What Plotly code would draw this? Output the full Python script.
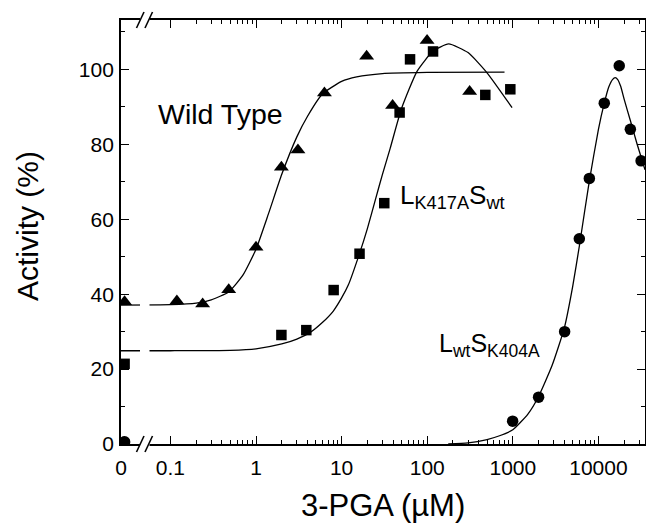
import plotly.graph_objects as go

# ---------------- data ----------------
# x = 3-PGA concentration (uM); 0 is drawn on the broken-axis segment at the left
wt_x = [0, 0.119, 0.238, 0.48, 1.0, 1.98, 3.09, 6.3, 19.6, 39.4, 99.6, 313]
wt_y = [38.0, 38.2, 37.4, 41.2, 52.5, 73.9, 78.5, 93.7, 103.5, 90.4, 107.7, 94.1]

k417_x = [0, 1.98, 3.87, 8.07, 16.2, 31.5, 47.6, 63, 117, 477, 935]
k417_y = [21.4, 29.1, 30.4, 41.1, 50.8, 64.3, 88.5, 102.7, 104.8, 93.2, 94.7]

k404_x = [0, 995, 2000, 4030, 5980, 7830, 11700, 17500, 23600, 31500]
k404_y = [0.6, 6.1, 12.5, 30.0, 54.8, 70.9, 91.0, 101.0, 84.0, 75.6]

# fitted curves
wt_fit_x = [0, 0.1, 0.2, 0.3, 0.48, 0.7, 1.0, 1.4, 2.0, 3.0, 4.0, 6.0, 10, 15, 30, 100, 800]
wt_fit_y = [37.1, 37.2, 37.6, 38.5, 40.6, 45.0, 52.0, 61.5, 72.0, 82.0, 87.5, 93.5, 96.8, 98.0, 98.9, 99.2, 99.3]

k417_fit_x = [0, 0.1, 0.5, 1, 2, 3, 4.3, 6, 8, 10, 12, 16, 20, 25, 30, 37, 50, 76, 117, 178, 300, 500, 980]
k417_fit_y = [24.9, 24.9, 25.0, 25.4, 26.7, 28.0, 29.8, 32.5, 35.5, 39.0, 42.5, 50.5, 57.5, 65.5, 72.0, 79.0,
              89.5, 99.5, 104.9, 106.8, 104.5, 99.1, 89.8]

k404_fit_x = [176, 300, 500, 700, 1000, 1500, 2000, 2880, 4000, 5000, 6000, 7800, 10000, 11700, 13200, 14600,
              15700, 16800, 18200, 20000, 23500, 28100, 35000]
k404_fit_y = [0.0, 0.3, 1.2, 2.2, 3.8, 8.0, 12.7, 21.0, 31.0, 42.0, 53.0, 70.0, 84.0, 91.0, 95.3, 97.3,
              97.8, 97.3, 95.5, 92.0, 86.5, 80.3, 73.2]

x_tick_text = ["0", "0.1", "1", "10", "100", "1000", "10000"]
x_tick_vals_pos = [0.1, 1, 10, 100, 1000, 10000]
y_tick_vals = [0, 20, 40, 60, 80, 100]

# ---------------- layout constants ----------------
X_LOG_RANGE = [-1.577, 4.544]
ZERO_POS = 10 ** -1.535          # where the x = 0 points sit (left of the axis break)
ZERO_TICK = 10 ** -1.575
FONT = "Liberation Sans, Arial, Helvetica, sans-serif"
L, R, T, B = 121, 1, 20, 79
PW, PH = 646 - L - R, 523 - T - B


def place(xs):
    return [ZERO_POS if v == 0 else v for v in xs]


def place_fit(xs):
    return [10 ** X_LOG_RANGE[0] if v == 0 else v for v in xs]


def px_to_paper(px, py):
    return (px - L) / PW, (523 - B - py) / PH


fig = go.Figure()

line_style = dict(color="black", width=1.3, shape="spline", smoothing=0.5)
fig.add_trace(go.Scatter(x=place_fit(wt_fit_x), y=wt_fit_y, mode="lines", line=line_style, hoverinfo="skip"))
fig.add_trace(go.Scatter(x=place_fit(k417_fit_x), y=k417_fit_y, mode="lines", line=line_style, hoverinfo="skip"))
fig.add_trace(go.Scatter(x=k404_fit_x, y=k404_fit_y, mode="lines", line=line_style, hoverinfo="skip"))

fig.add_trace(go.Scatter(x=place(wt_x), y=wt_y, mode="markers", name="Wild Type",
                         marker=dict(symbol="triangle-up", size=13, color="black")))
fig.add_trace(go.Scatter(x=place(k417_x), y=k417_y, mode="markers", name="LK417ASwt",
                         marker=dict(symbol="square", size=10.5, color="black")))
fig.add_trace(go.Scatter(x=place(k404_x), y=k404_y, mode="markers", name="LwtSK404A",
                         marker=dict(symbol="circle", size=11.5, color="black")))

# minor ticks on log axis
minor_x = []
for e in range(-1, 5):
    for m in range(2, 10):
        v = m * 10 ** e
        if v <= 10 ** X_LOG_RANGE[1]:
            minor_x.append(v)

fig.update_layout(
    width=646, height=523,
    margin=dict(l=L, r=R, t=T, b=B, autoexpand=False),
    paper_bgcolor="white", plot_bgcolor="white",
    showlegend=False,
    font=dict(family=FONT, color="black", size=21),
    xaxis=dict(
        type="log", range=X_LOG_RANGE, automargin=False,
        tickmode="array", tickvals=[ZERO_TICK] + x_tick_vals_pos, ticktext=x_tick_text,
        ticks="inside", ticklen=8, tickwidth=1.4, tickcolor="black",
        minor=dict(tickmode="array", tickvals=minor_x, ticks="inside", ticklen=4,
                   tickwidth=1.2, tickcolor="black", showgrid=False),
        showline=True, linecolor="black", linewidth=1.8, mirror="ticks",
        showgrid=False, zeroline=False,
        tickfont=dict(size=21), ticklabelstandoff=4,
    ),
    yaxis=dict(
        range=[0, 113.2], automargin=False,
        tickmode="array", tickvals=y_tick_vals,
        ticks="inside", ticklen=8, tickwidth=1.4, tickcolor="black",
        minor=dict(dtick=10, ticks="inside", ticklen=4, tickwidth=1.2, tickcolor="black",
                   showgrid=False),
        showline=True, linecolor="black", linewidth=1.8, mirror="ticks",
        showgrid=False, zeroline=False,
        tickfont=dict(size=21), ticklabelstandoff=1,
    ),
)

# axis titles as annotations (precise placement)
tx, ty = px_to_paper(383, 505)
fig.add_annotation(text="3-PGA (µM)", xref="paper", yref="paper", x=tx, y=ty,
                   xanchor="center", yanchor="middle", showarrow=False, font=dict(size=31))
tx, ty = px_to_paper(28, 226)
fig.add_annotation(text="Activity (%)", xref="paper", yref="paper", x=tx, y=ty, textangle=-90,
                   xanchor="center", yanchor="middle", showarrow=False, font=dict(size=30))

# axis break: white gap + double slashes on top and bottom
gx0, _ = px_to_paper(140, 0)
gx1, _ = px_to_paper(149.5, 0)
fig.add_shape(type="rect", xref="paper", yref="paper", x0=gx0, x1=gx1, y0=-0.012, y1=1.012,
              fillcolor="white", line=dict(width=0), layer="above")
for base in (444, 20):
    for sx in (136.5, 145):
        x0, y0 = px_to_paper(sx, base + 8)
        x1, y1 = px_to_paper(sx + 7.5, base - 8)
        fig.add_shape(type="line", xref="paper", yref="paper", x0=x0, y0=y0, x1=x1, y1=y1,
                      line=dict(color="black", width=1.6), layer="above")

ax, ay = px_to_paper(156, 114)
fig.add_annotation(text="Wild Type", xref="paper", yref="paper", x=ax, y=ay,
                   xanchor="left", yanchor="middle", showarrow=False, font=dict(size=28.5))
ax, ay = px_to_paper(398, 196)
fig.add_annotation(text="L<sub>K417A</sub>S<sub>wt</sub>", xref="paper", yref="paper", x=ax, y=ay,
                   xanchor="left", yanchor="middle", showarrow=False, font=dict(size=26))
ax, ay = px_to_paper(437, 345)
fig.add_annotation(text="L<sub>wt</sub>S<sub>K404A</sub>", xref="paper", yref="paper", x=ax, y=ay,
                   xanchor="left", yanchor="middle", showarrow=False, font=dict(size=25))

# remove the browser's default 8px body margin so the figure fills the window exactly
fig.write_html("out.html", config={"displayModeBar": False},
               post_script="document.body.style.margin='0px';document.body.style.overflow='hidden';")
